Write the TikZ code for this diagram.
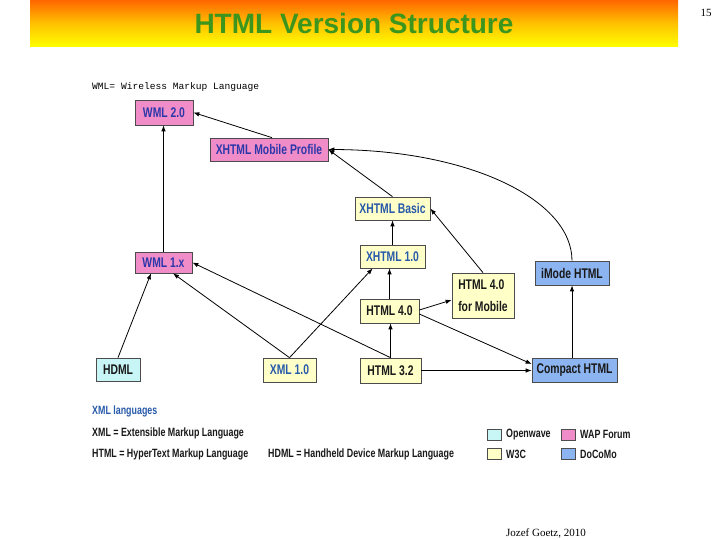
\documentclass[tikz,border=0pt]{standalone}
\usepackage{fontspec}
\setmainfont{Liberation Serif}
\newfontfamily\condfont[FakeStretch=0.74]{Liberation Sans}
\newfontfamily\headfont{Liberation Sans}
\newfontfamily\monofont{Liberation Mono}
\usetikzlibrary{arrows.meta,calc}
\definecolor{wap}{RGB}{240,140,200}
\definecolor{wthree}{RGB}{255,255,200}
\definecolor{openw}{RGB}{200,245,245}
\definecolor{docomo}{RGB}{140,180,240}
\definecolor{waptext}{RGB}{45,55,170}
\definecolor{xtext}{RGB}{40,90,170}
\definecolor{htext}{RGB}{25,25,25}
\definecolor{titlegreen}{RGB}{60,150,30}
\definecolor{bannertop}{RGB}{255,102,0}
\definecolor{bannerbot}{RGB}{255,255,0}
\begin{document}
\begin{tikzpicture}[x=1pt,y=-1pt,
  box/.style={draw=black!70,line width=0.7pt,inner sep=0pt,
    font=\condfont\bfseries\fontsize{14}{22}\selectfont},
  wapbox/.style={box,fill=wap,text=waptext},
  wbox/.style={box,fill=wthree,text=htext},
  xbox/.style={box,fill=wthree,text=xtext},
  obox/.style={box,fill=openw,text=htext},
  dbox/.style={box,fill=docomo,text=htext},
  ar/.style={-{Latex[length=6pt,width=4.5pt]},line width=0.8pt,black},
  legtext/.style={anchor=west,inner sep=0pt,text=htext,
    font=\condfont\bfseries\fontsize{12}{12}\selectfont},
  legbox/.style={draw=black!70,line width=0.6pt,minimum width=14pt,minimum height=11pt,inner sep=0pt}]
\useasboundingbox (0,0) rectangle (720,540);
% banner
\shade[top color=bannertop,bottom color=bannerbot,middle color=bannerbot!60!bannertop] (30,0) rectangle (678,47);
\node[text=titlegreen,font=\headfont\bfseries\fontsize{28}{30}\selectfont,inner sep=0pt] (title) at (354,23) {HTML Version Structure};
\node[font=\fontsize{11}{12}\selectfont,inner sep=0pt] (pnum) at (706,13) {15};
\node[anchor=west,inner sep=0pt,font=\monofont\fontsize{9.6}{11}\selectfont] (wmlnote) at (92,87) {WML= Wireless Markup Language};
% nodes
\node[wapbox,minimum width=58pt,minimum height=25pt] (wml2) at (164,112.5) {WML 2.0};
\node[wapbox,minimum width=118pt,minimum height=23pt] (xmp) at (269,149.5) {XHTML Mobile Profile};
\node[wapbox,minimum width=57pt,minimum height=21pt] (wml1) at (163.5,262.5) {WML 1.x};
\node[xbox,minimum width=75pt,minimum height=23pt] (xbas) at (392.5,208.5) {XHTML Basic};
\node[xbox,minimum width=65pt,minimum height=23pt] (xh10) at (392.5,256.5) {XHTML 1.0};
\node[wbox,minimum width=59pt,minimum height=24pt] (h40) at (389.5,311) {HTML 4.0};
\node[wbox,minimum width=62pt,minimum height=45pt,align=left] (mob) at (483,295.5) {HTML 4.0\\for Mobile};
\node[dbox,minimum width=74pt,minimum height=24pt] (imode) at (572,273) {iMode HTML};
\node[obox,minimum width=44pt,minimum height=23pt] (hdml) at (118,369.5) {HDML};
\node[xbox,minimum width=53pt,minimum height=24pt] (xml) at (289.5,370) {XML 1.0};
\node[wbox,minimum width=61pt,minimum height=25pt] (h32) at (390.5,370.5) {HTML 3.2};
\node[dbox,minimum width=85pt,minimum height=24pt] (chtml) at (574.5,370) {Compact HTML};
% connectors
\draw[ar] (wml1.north) -- (wml1.north |- wml2.south);
\draw[ar] ([xshift=3pt]xmp.north) -- (wml2.east);
\draw[ar] (xbas.north) -- (xmp.east);
\draw[ar] (imode.north) .. controls (572,200) and (470,150) .. (xmp.east);
\draw[ar] (xh10.north) -- (xbas.south);
\draw[ar] (mob.north) -- (xbas.east);
\draw[ar] (h40.north) -- (h40.north |- xh10.south);
\draw[ar] ([yshift=1pt]h40.east) -- ([yshift=-4.5pt]mob.west);
\draw[ar] ([yshift=-3pt]h40.east) -- ([yshift=6pt]chtml.west);
\draw[ar] (h32.north) -- (h32.north |- h40.south);
\draw[ar] (h32.east) -- (h32.east -| chtml.west);
\draw[ar] (imode.south |- chtml.north) -- (imode.south);
\draw[ar] (xml.north) -- ([xshift=13pt]xh10.south west);
\draw[ar] (xml.north) -- ([xshift=9.5pt]wml1.south);
\draw[ar] (h32.north) -- (wml1.east);
\draw[ar] (hdml.north) -- ([xshift=-12.5pt]wml1.south);
% legend
\node[legtext,text=xtext] (xmllang) at (92,411) {XML languages};
\node[legtext] (xmldef) at (92,433) {XML = Extensible Markup Language};
\node[legtext] (htmldef) at (92,454) {HTML = HyperText Markup Language};
\node[legtext] (hdmldef) at (268,454) {HDML = Handheld Device Markup Language};
\node[legbox,fill=openw] (lgo) at (494,434.5) {};
\node[legtext] (lgot) at (506,434.5) {Openwave};
\node[legbox,fill=wap] (lgw) at (568.5,434.5) {};
\node[legtext] (lgwt) at (580,434.5) {WAP Forum};
\node[legbox,fill=wthree] (lg3) at (494,454) {};
\node[legtext] (lg3t) at (506,454) {W3C};
\node[legbox,fill=docomo] (lgd) at (568.5,454) {};
\node[legtext] (lgdt) at (580,454) {DoCoMo};
% footer
\node[font=\fontsize{11}{12}\selectfont,inner sep=0pt] (footer) at (546,533) {Jozef Goetz, 2010};
\end{tikzpicture}
\end{document}
